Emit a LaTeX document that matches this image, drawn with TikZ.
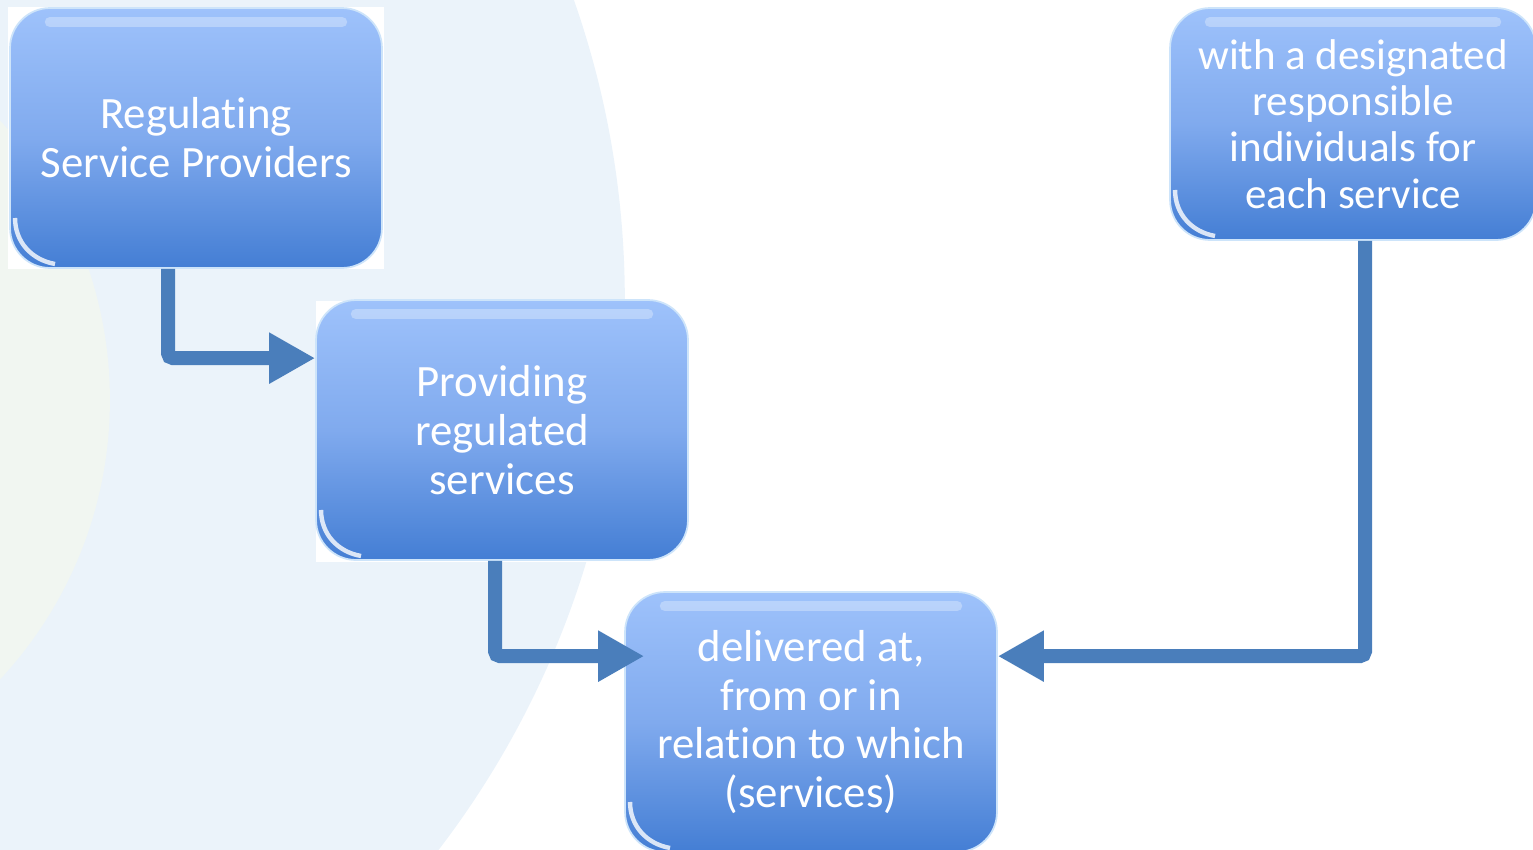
\documentclass[tikz,border=0pt]{standalone}
\usepackage{fontspec}
\setmainfont{Carlito}[Ligatures={NoCommon,NoContextual,NoRare}, RawFeature={-calt}]
\usetikzlibrary{arrows.meta,positioning}

\definecolor{boxtop}{RGB}{158,194,251}
\definecolor{boxmid}{RGB}{128,170,238}
\definecolor{boxbot}{RGB}{68,126,212}
\definecolor{boxrim}{RGB}{205,228,250}
\definecolor{flowline}{RGB}{74,126,187}
\definecolor{bgblue}{RGB}{235,243,250}
\definecolor{bgcream}{RGB}{245,248,236}

\tikzset{
  stagebox/.style={rectangle,
      rounded corners = 0.8cm,
      draw = boxrim,
      line width = 1pt,
      top color = boxtop,
      bottom color = boxbot,
      middle color = boxmid,
      minimum width = 7.44cm,
      minimum height = 5.2cm,
      align = center,
      text = white,
      font = \fontsize{25.5pt}{27.8pt}\selectfont,
      path picture = {
        \draw[white, opacity = 0.3, line width = 6pt, line cap = round]
          ([xshift=0.8cm,yshift=-0.28cm]path picture bounding box.north west) --
          ([xshift=-0.8cm,yshift=-0.28cm]path picture bounding box.north east);
        \draw[white, opacity = 0.8, line width = 2.5pt]
          ([xshift=0.1cm,yshift=1.0cm]path picture bounding box.south west)
          to[out=-90, in=170]
          ([xshift=0.9cm,yshift=0.08cm]path picture bounding box.south west);
      }},
  backplate/.style={fill = white},
  flow/.style={draw = flowline,
      line width = 0.28cm,
      rounded corners = 0.1cm,
      -{Triangle[length=0.92cm,width=0.96cm]}},
}

\begin{document}
\begin{tikzpicture}[x=0.02cm, y=-0.02cm]
\useasboundingbox (0,0) rectangle (1533,849);
\clip (0,0) rectangle (1533,849);

% background
\fill[bgblue] (-280,300) circle [radius=18.1cm];
\fill[bgcream, opacity=0.6] (-300,400) circle [radius=8.2cm];
\fill[backplate] (8,7) rectangle (384,269);
\fill[backplate] (316,301) rectangle (690,562);

% stages
\node[stagebox] (regulate) at (196,138) {Regulating\\Service Providers};

\node[stagebox] (provide) at (502,430) {Providing\\regulated\\services};

\node[stagebox] (deliver) at (811,722)
  {delivered at,\\from or in\\relation to which\\(services)};

\node[stagebox,
    minimum width = 7.32cm,
    minimum height = 4.64cm,
    font = \fontsize{24.5pt}{26.3pt}\selectfont] (person) at (1353,124)
  {with a designated\\responsible\\individuals for\\each service};

% connectors
\draw[flow] ([xshift=-0.56cm]regulate.south) |- ([yshift=-1.18cm]provide.north west);
\draw[flow] ([xshift=-0.14cm]provide.south) |- ([xshift=0.4cm,yshift=-1.3cm]deliver.north west);
\draw[flow] ([xshift=0.24cm]person.south) |- ([yshift=-1.3cm]deliver.north east);

\end{tikzpicture}
\end{document}
